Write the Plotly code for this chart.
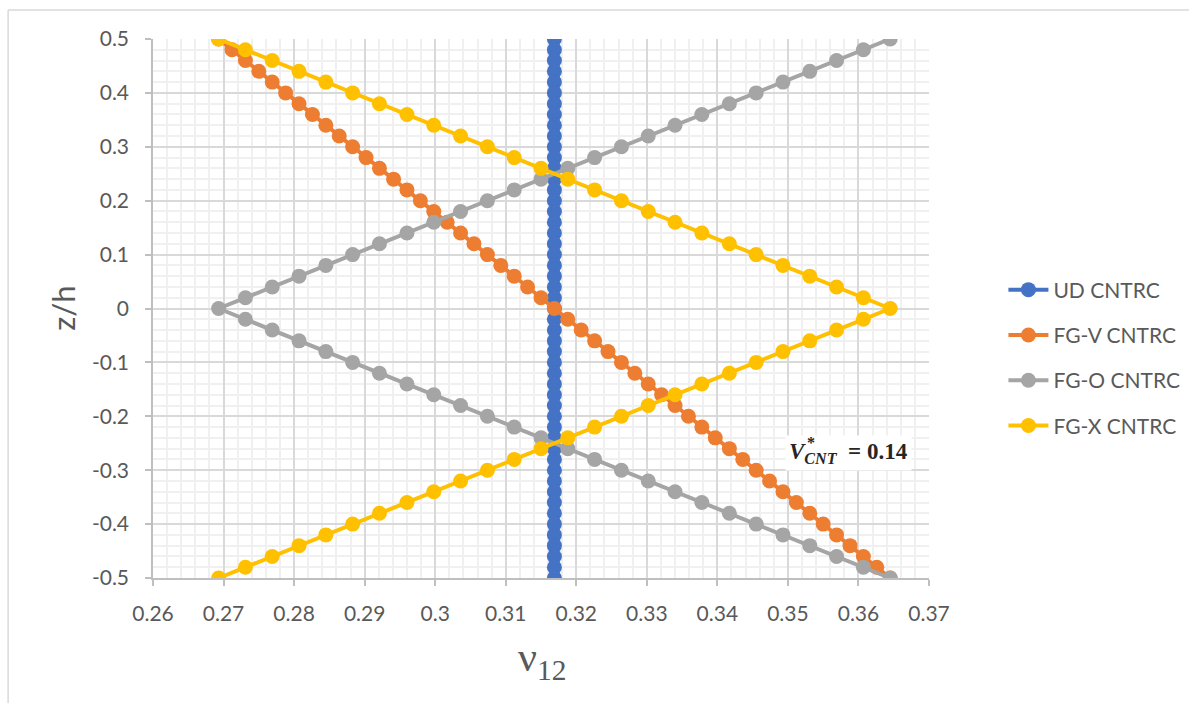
import plotly.graph_objects as go

# ---- data ----
z_h = [0.5, 0.48, 0.46, 0.44, 0.42, 0.4, 0.38, 0.36, 0.34, 0.32, 0.3, 0.28, 0.26, 0.24, 0.22,
       0.2, 0.18, 0.16, 0.14, 0.12, 0.1, 0.08, 0.06, 0.04, 0.02, 0.0,
       -0.02, -0.04, -0.06, -0.08, -0.1, -0.12, -0.14, -0.16, -0.18, -0.2, -0.22, -0.24,
       -0.26, -0.28, -0.3, -0.32, -0.34, -0.36, -0.38, -0.4, -0.42, -0.44, -0.46, -0.48, -0.5]

ud_cntrc = [0.3169, 0.3169, 0.3169, 0.3169, 0.3169, 0.3169, 0.3169, 0.3169, 0.3169, 0.3169,
            0.3169, 0.3169, 0.3169, 0.3169, 0.3169, 0.3169, 0.3169, 0.3169, 0.3169, 0.3169,
            0.3169, 0.3169, 0.3169, 0.3169, 0.3169, 0.3169, 0.3169, 0.3169, 0.3169, 0.3169,
            0.3169, 0.3169, 0.3169, 0.3169, 0.3169, 0.3169, 0.3169, 0.3169, 0.3169, 0.3169,
            0.3169, 0.3169, 0.3169, 0.3169, 0.3169, 0.3169, 0.3169, 0.3169, 0.3169, 0.3169,
            0.3169]

fgv_cntrc = [0.2693, 0.2712, 0.2731, 0.2750, 0.2769, 0.2788, 0.2807, 0.2826, 0.2845, 0.2864,
             0.2883, 0.2902, 0.2921, 0.2941, 0.2960, 0.2979, 0.2998, 0.3017, 0.3036, 0.3055,
             0.3074, 0.3093, 0.3112, 0.3131, 0.3150, 0.3169, 0.3188, 0.3207, 0.3226, 0.3245,
             0.3264, 0.3283, 0.3302, 0.3321, 0.3340, 0.3359, 0.3378, 0.3397, 0.3417, 0.3436,
             0.3455, 0.3474, 0.3493, 0.3512, 0.3531, 0.3550, 0.3569, 0.3588, 0.3607, 0.3626,
             0.3645]

fgo_cntrc = [0.3645, 0.3607, 0.3569, 0.3531, 0.3493, 0.3455, 0.3417, 0.3378, 0.3340, 0.3302,
             0.3264, 0.3226, 0.3188, 0.3150, 0.3112, 0.3074, 0.3036, 0.2998, 0.2960, 0.2921,
             0.2883, 0.2845, 0.2807, 0.2769, 0.2731, 0.2693, 0.2731, 0.2769, 0.2807, 0.2845,
             0.2883, 0.2921, 0.2960, 0.2998, 0.3036, 0.3074, 0.3112, 0.3150, 0.3188, 0.3226,
             0.3264, 0.3302, 0.3340, 0.3378, 0.3417, 0.3455, 0.3493, 0.3531, 0.3569, 0.3607,
             0.3645]

fgx_cntrc = [0.2693, 0.2731, 0.2769, 0.2807, 0.2845, 0.2883, 0.2921, 0.2960, 0.2998, 0.3036,
             0.3074, 0.3112, 0.3150, 0.3188, 0.3226, 0.3264, 0.3302, 0.3340, 0.3378, 0.3417,
             0.3455, 0.3493, 0.3531, 0.3569, 0.3607, 0.3645, 0.3607, 0.3569, 0.3531, 0.3493,
             0.3455, 0.3417, 0.3378, 0.3340, 0.3302, 0.3264, 0.3226, 0.3188, 0.3150, 0.3112,
             0.3074, 0.3036, 0.2998, 0.2960, 0.2921, 0.2883, 0.2845, 0.2807, 0.2769, 0.2731,
             0.2693]

series_names = ["UD CNTRC", "FG-V CNTRC", "FG-O CNTRC", "FG-X CNTRC"]
series_values = [ud_cntrc, fgv_cntrc, fgo_cntrc, fgx_cntrc]
series_colors = ["#4472C4", "#ED7D31", "#A5A5A5", "#FFC000"]

x_tick_vals = [0.26, 0.27, 0.28, 0.29, 0.30, 0.31, 0.32, 0.33, 0.34, 0.35, 0.36, 0.37]
x_tick_text = ["0.26", "0.27", "0.28", "0.29", "0.3", "0.31", "0.32", "0.33", "0.34", "0.35", "0.36", "0.37"]
y_tick_vals = [0.5, 0.4, 0.3, 0.2, 0.1, 0.0, -0.1, -0.2, -0.3, -0.4, -0.5]
y_tick_text = ["0.5", "0.4", "0.3", "0.2", "0.1", "0", "-0.1", "-0.2", "-0.3", "-0.4", "-0.5"]

# ---- figure ----
W, H = 1197, 703
L, R, T, B = 153, 262, 39, 125
pw, ph = W - L - R, H - T - B

def px_x(p):
    return (p - L) / pw

def px_y(p):
    return (H - B - p) / ph

fig = go.Figure()
for name, vals, col in zip(series_names, series_values, series_colors):
    fig.add_trace(go.Scatter(
        x=vals, y=z_h, name=name, mode="lines+markers", legendgroup=name,
        line=dict(color=col, width=4),
        marker=dict(color=col, size=15, line=dict(width=0)),
    ))

TICKFONT = dict(family="Lato, 'Open Sans', sans-serif", size=21, color="#595959")

fig.update_layout(
    width=W, height=H,
    margin=dict(l=L, r=R, t=T, b=B),
    paper_bgcolor="white", plot_bgcolor="white",
    font=TICKFONT,
    showlegend=True,
    legend=dict(
        x=px_x(1010), xanchor="left", y=px_y(358), yanchor="middle",
        font=TICKFONT, tracegroupgap=15, bgcolor="rgba(0,0,0,0)",
        itemwidth=40,
    ),
    xaxis=dict(
        range=[0.26, 0.37], tickmode="array", tickvals=x_tick_vals, ticktext=x_tick_text,
        showgrid=True, gridcolor="#D9D9D9", gridwidth=1.5,
        minor=dict(dtick=0.002, showgrid=True, gridcolor="#F0F0F0", gridwidth=1.5),
        showline=True, linecolor="#BFBFBF", linewidth=1.5,
        ticks="outside", ticklen=6, tickcolor="#BFBFBF", tickwidth=1.5,
        ticklabelstandoff=10, zeroline=False, tickfont=TICKFONT,
    ),
    yaxis=dict(
        range=[-0.5, 0.5], tickmode="array", tickvals=y_tick_vals, ticktext=y_tick_text,
        showgrid=True, gridcolor="#D9D9D9", gridwidth=1.5,
        minor=dict(dtick=0.02, showgrid=True, gridcolor="#F0F0F0", gridwidth=1.5),
        showline=True, linecolor="#BFBFBF", linewidth=1.5,
        ticks="outside", ticklen=6, tickcolor="#BFBFBF", tickwidth=1.5,
        ticklabelstandoff=12, zeroline=False, tickfont=TICKFONT,
    ),
)

# axis titles
fig.add_annotation(text="z/h", xref="paper", yref="paper", x=px_x(62), y=px_y(308),
                   xanchor="center", yanchor="middle",
                   showarrow=False, textangle=-90,
                   font=dict(family="Lato, 'Open Sans', sans-serif", size=31, color="#595959"))
fig.add_annotation(text="ν<sub>12</sub>", xref="paper", yref="paper", x=px_x(545), y=px_y(660),
                   xanchor="center", yanchor="middle",
                   showarrow=False,
                   font=dict(family="'Liberation Serif', 'DejaVu Serif', serif", size=42, color="#595959"))

# V*_CNT annotation
fig.add_annotation(text="<b><i>V</i><sub><i>CNT</i></sub>  = 0.14</b>", xref="paper", yref="paper",
                   x=px_x(790), y=px_y(453), xanchor="left", yanchor="middle", showarrow=False,
                   bgcolor="white", borderpad=3,
                   font=dict(family="'Liberation Serif', 'DejaVu Serif', serif", size=23, color="#262626"))
fig.add_annotation(text="<b>*</b>", xref="paper", yref="paper",
                   x=px_x(810), y=px_y(442), xanchor="left", yanchor="middle", showarrow=False,
                   font=dict(family="'Liberation Serif', 'DejaVu Serif', serif", size=16, color="#262626"))

# chart outer border (left & top edges)
fig.add_shape(type="line", xref="paper", yref="paper", x0=px_x(7), x1=px_x(7), y0=px_y(10), y1=px_y(703),
              line=dict(color="#D9D9D9", width=1.5))
fig.add_shape(type="line", xref="paper", yref="paper", x0=px_x(7), x1=px_x(1197), y0=px_y(10), y1=px_y(10),
              line=dict(color="#D9D9D9", width=1.5))

fig.write_html("out.html")
